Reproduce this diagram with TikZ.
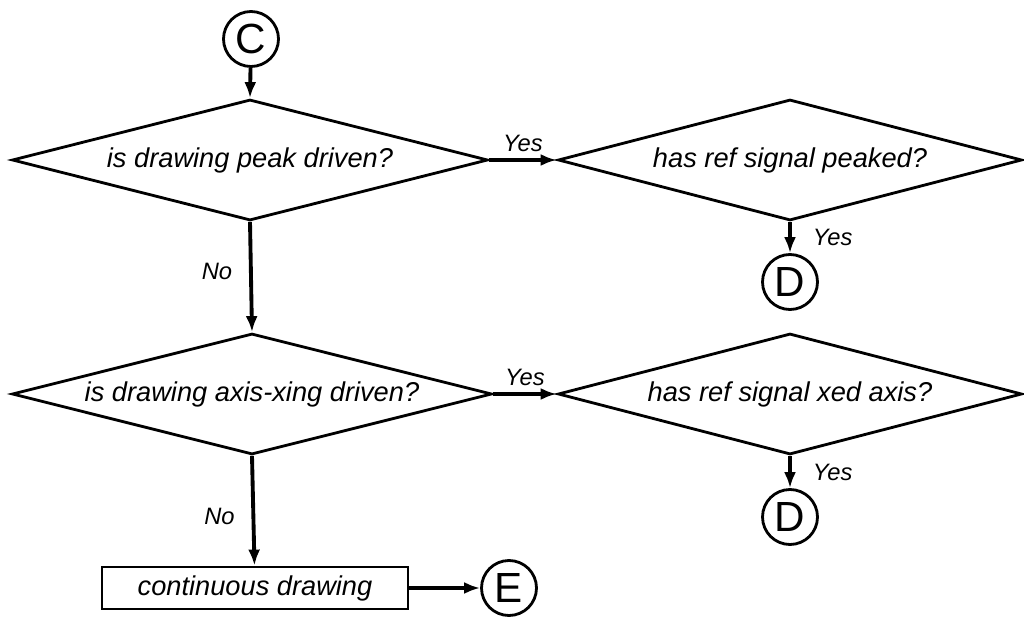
\documentclass[tikz,border=0pt]{standalone}
\usepackage{fontspec}
\setmainfont{Liberation Sans}
\usetikzlibrary{shapes.geometric, arrows.meta, positioning}

\begin{document}
\begin{tikzpicture}[x=0.02cm, y=-0.02cm, line width=1.6pt,
  test/.style={draw, shape=diamond, shape aspect=4, inner sep=0pt,
    minimum width=#1, minimum height=2.42cm,
    font=\fontsize{15.5}{18}\selectfont\itshape},
  test/.default=9.52cm,
  conn/.style={draw, circle, inner sep=0pt, minimum size=1.1cm,
    font=\fontsize{24}{28}\selectfont},
  task/.style={draw, rectangle, inner sep=0pt, minimum width=6.12cm,
    minimum height=0.84cm, font=\fontsize{15.5}{18}\selectfont\itshape},
  flow/.style={-{Latex[length=0.32cm, width=0.24cm]}, line width=2.2pt},
  lab/.style={font=\fontsize{13.5}{16}\selectfont\itshape}]
\useasboundingbox (0,0) rectangle (1024,618);

\node[conn] (c) at (251,39) {C};
\node[test] (peak) at (250,160) {is drawing peak driven?};
\node[test=9.28cm] (peaked) at (790,160) {has ref signal peaked?};
\node[conn] (d1) at (790,282) {D};
\node[test=9.6cm] (xing) at (252,394) {is drawing axis-xing driven?};
\node[test=9.28cm] (xed) at (790,394) {has ref signal xed axis?};
\node[conn] (d2) at (790,517) {D};
\node[task] (cont) at (255,588) {continuous drawing};
\node[conn] (e) at (509,588) {E};

\draw[flow] (c) -- (peak.north);
\draw[flow] (peak.east) -- node[lab, above] {Yes} (peaked.west);
\draw[flow] (peaked.south) -- node[lab, right=0.3cm] {Yes} (d1);
\draw[flow] (peak.south) -- node[lab, pos=0.45, left=0.22cm] {No} (xing.north);
\draw[flow] (xing.east) -- node[lab, above] {Yes} (xed.west);
\draw[flow] (xed.south) -- node[lab, right=0.3cm] {Yes} (d2);
\draw[flow] (xing.south) -- node[lab, pos=0.55, left=0.22cm] {No} (cont);
\draw[flow] (cont) -- (e);
\end{tikzpicture}
\end{document}
